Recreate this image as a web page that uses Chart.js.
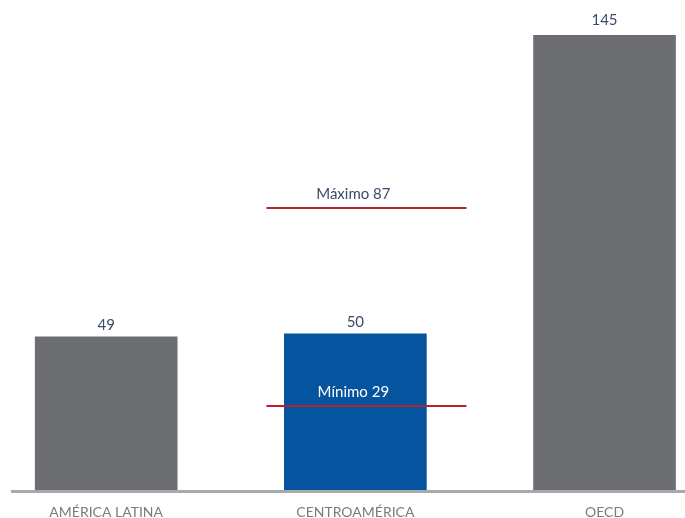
<!DOCTYPE html>
<html>
<head>
<meta charset="utf-8">
<script src="https://cdn.jsdelivr.net/npm/chart.js@4"></script>
<style>
  html, body { margin: 0; padding: 0; background: #fff; }
  #wrap { width: 685px; height: 518px; position: relative; }
</style>
</head>
<body>
<div id="wrap"><canvas id="chart"></canvas></div>
<script>
// categories and values
const categories = ['AMÉRICA LATINA', 'CENTROAMÉRICA', 'OECD'];
const values = [49, 50, 145];
const barColors = ['#6d6e71', '#04549f', '#6d6e71'];

// range lines drawn across the middle category (levels as placed in the picture)
const rangeLevels = [90, 27];
const rangeLabels = ['Máximo 87', 'Mínimo 29'];
const rangeLabelColors = ['#3b4a6d', '#ffffff'];
const rangeSpan = [0.643, 1.446];

const barData = values.map((v, i) => ({ x: i, y: v }));

const rangeSets = rangeLevels.map(level => ({
    type: 'line',
    data: rangeSpan.map(x => ({ x: x, y: level })),
    borderColor: '#b8222a',
    borderWidth: 2,
    pointRadius: 0,
    fill: false
}));

// value labels above bars + labels over range lines
const labelPlugin = {
    id: 'labels',
    afterDatasetsDraw(chart) {
        const ctx = chart.ctx;
        const xs = chart.scales.x;
        const ys = chart.scales.y;
        ctx.save();
        ctx.textAlign = 'center';
        ctx.textBaseline = 'bottom';
        ctx.font = '15px Lato';
        ctx.fillStyle = '#3b4a6d';
        values.forEach((v, i) => {
            const extra = i === 2 ? 3 : 0;
            ctx.fillText(String(v), xs.getPixelForValue(i), ys.getPixelForValue(v) - 4 - extra);
        });
        rangeLevels.forEach((level, i) => {
            ctx.fillStyle = rangeLabelColors[i];
            ctx.fillText(rangeLabels[i], xs.getPixelForValue(1) - 2, ys.getPixelForValue(level) - 6);
        });
        ctx.restore();
    }
};

new Chart(document.getElementById('chart'), {
    type: 'bar',
    data: {
        datasets: [{
            data: barData,
            backgroundColor: barColors,
            barThickness: 142,
            order: 1
        }].concat(rangeSets)
    },
    options: {
        responsive: true,
        maintainAspectRatio: false,
        animation: false,
        layout: { padding: { top: 35, left: 12, right: 0, bottom: 0 } },
        plugins: {
            legend: { display: false },
            tooltip: { enabled: false }
        },
        scales: {
            x: {
                type: 'linear',
                offset: false,
                min: -0.378,
                max: 2.323,
                grid: { display: false, drawTicks: false },
                border: { display: true, color: '#a7a9ac', width: 3, z: 1 },
                afterFit(scale) { scale.height = 27; },
                ticks: {
                    stepSize: 1,
                    includeBounds: false,
                    autoSkip: false,
                    maxRotation: 0,
                    padding: 13,
                    color: '#7b7b7d',
                    font: { family: 'Lato', size: 14 },
                    callback: v => categories[v] || ''
                }
            },
            y: {
                display: false,
                min: 0,
                max: 145
            }
        }
    },
    plugins: [labelPlugin]
});
</script>
</body>
</html>
